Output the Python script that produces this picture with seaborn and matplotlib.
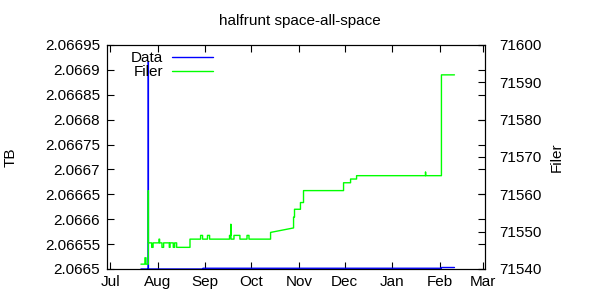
import matplotlib
matplotlib.use("Agg")
import matplotlib.pyplot as plt
import matplotlib.dates as mdates
from matplotlib.ticker import FixedLocator, FuncFormatter
from matplotlib.lines import Line2D
import pandas as pd
import seaborn as sns

# ---------------- data ----------------
title = "halfrunt space-all-space"
left_label = "TB"
right_label = "Filer"
series_names = ["Data", "Filer"]

data_dates = ["2010-07-21 00:00", "2010-07-25 19:00", "2010-07-25 20:00",
              "2010-07-25 21:00", "2010-08-30 12:00", "2010-08-30 12:00",
              "2011-02-02 02:00", "2011-02-02 02:00", "2011-02-10 14:00"]
data_tb = [2.0665, 2.0665, 2.066916,
           2.0665, 2.0665, 2.0665015,
           2.0665015, 2.066503, 2.066503]

filer_dates = [
    "2010-07-21 00:00", "2010-07-23 14:00", "2010-07-23 14:00", "2010-07-24 07:00",
    "2010-07-24 07:00", "2010-07-25 19:00", "2010-07-25 19:00", "2010-07-25 20:00",
    "2010-07-25 21:00", "2010-07-28 00:00", "2010-07-28 00:00", "2010-07-28 22:00",
    "2010-07-28 22:00", "2010-08-01 19:00", "2010-08-01 19:00", "2010-08-02 04:00",
    "2010-08-02 04:00", "2010-08-03 17:00", "2010-08-03 17:00", "2010-08-04 19:00",
    "2010-08-04 19:00", "2010-08-08 12:00", "2010-08-08 12:00", "2010-08-09 00:00",
    "2010-08-09 00:00", "2010-08-11 02:00", "2010-08-11 02:00", "2010-08-12 00:00",
    "2010-08-12 00:00", "2010-08-13 07:00", "2010-08-13 07:00", "2010-08-22 00:00",
    "2010-08-22 00:00", "2010-08-28 22:00", "2010-08-28 22:00", "2010-08-30 05:00",
    "2010-08-30 05:00", "2010-09-02 10:00", "2010-09-02 10:00", "2010-09-03 19:00",
    "2010-09-03 19:00", "2010-09-16 19:00", "2010-09-16 19:00", "2010-09-17 16:00",
    "2010-09-17 16:00", "2010-09-17 18:00", "2010-09-19 17:00", "2010-09-19 17:00",
    "2010-09-23 14:00", "2010-09-23 14:00", "2010-09-28 05:00", "2010-09-28 05:00",
    "2010-09-29 12:00", "2010-09-29 12:00", "2010-10-13 14:00", "2010-10-13 14:00",
    "2010-10-28 14:00", "2010-10-28 14:00", "2010-10-29 05:00", "2010-10-29 05:00",
    "2010-11-02 02:00", "2010-11-02 02:00", "2010-11-04 02:00", "2010-11-04 02:00",
    "2010-11-30 05:00", "2010-11-30 05:00", "2010-12-04 19:00", "2010-12-04 19:00",
    "2010-12-08 17:00", "2010-12-08 17:00", "2011-01-22 17:00", "2011-01-22 17:00",
    "2011-01-22 19:00", "2011-02-02 02:00", "2011-02-02 02:00", "2011-02-10 14:00",
]
filer_count = [
    71541.3, 71541.3, 71543.0, 71543.0,
    71541.3, 71541.3, 71541.3, 71561.0,
    71547.0, 71547.0, 71545.8, 71545.8,
    71547.0, 71547.0, 71548.0, 71548.0,
    71547.0, 71547.0, 71545.8, 71545.8,
    71547.0, 71547.0, 71545.8, 71545.8,
    71547.0, 71547.0, 71545.8, 71545.8,
    71547.0, 71547.0, 71545.8, 71545.8,
    71548.0, 71548.0, 71549.0, 71549.0,
    71548.0, 71548.0, 71549.0, 71549.0,
    71548.0, 71548.0, 71549.0, 71549.0,
    71552.0, 71548.0, 71548.0, 71549.0,
    71549.0, 71548.0, 71548.0, 71549.0,
    71549.0, 71548.0, 71548.0, 71549.8,
    71551.0, 71553.9, 71553.9, 71556.0,
    71556.0, 71557.8, 71557.8, 71561.0,
    71561.0, 71563.1, 71563.1, 71564.1,
    71564.1, 71565.0, 71565.0, 71566.0,
    71565.0, 71565.0, 71592.0, 71592.0,
]

left_ticks = [2.0665, 2.06655, 2.0666, 2.06665, 2.0667, 2.06675,
              2.0668, 2.06685, 2.0669, 2.06695]
right_ticks = [71540, 71550, 71560, 71570, 71580, 71590, 71600]
x_start = "2010-06-29 01:00"
x_end = "2011-03-02 17:00"

# ---------------- styling ----------------
sns.set_theme(style="white")
plt.rcParams["font.family"] = ["Liberation Sans", "DejaVu Sans"]
plt.rcParams["axes.edgecolor"] = "black"
plt.rcParams["axes.linewidth"] = 0.8

df_data = pd.DataFrame({"date": pd.to_datetime(data_dates), "tb": data_tb})
df_filer = pd.DataFrame({"date": pd.to_datetime(filer_dates), "filer": filer_count})

fig = plt.figure(figsize=(6, 3), dpi=100)
ax = fig.add_axes([107.3 / 600, 31 / 300, 378 / 600, 224 / 300])
ax2 = ax.twinx()

blue = "#0000ff"
green = "#00ff00"
sns.lineplot(data=df_data, x="date", y="tb", ax=ax, color=blue, lw=1.0,
             estimator=None, sort=False, legend=False)
sns.lineplot(data=df_filer, x="date", y="filer", ax=ax2, color=green, lw=1.0,
             estimator=None, sort=False, legend=False)

ax.set_xlim(pd.Timestamp(x_start), pd.Timestamp(x_end))
ax.set_ylim(left_ticks[0], left_ticks[-1])
ax2.set_ylim(right_ticks[0], right_ticks[-1])

ax.xaxis.set_major_locator(mdates.MonthLocator())
ax.xaxis.set_major_formatter(mdates.DateFormatter("%b"))
ax.yaxis.set_major_locator(FixedLocator(left_ticks))
ax.yaxis.set_major_formatter(
    FuncFormatter(lambda v, p: f"{v:.5f}".rstrip("0").rstrip(".")))
ax2.yaxis.set_major_locator(FixedLocator(right_ticks))
ax2.yaxis.set_major_formatter(FuncFormatter(lambda v, p: f"{v:.0f}"))

fs = 11
ax.tick_params(axis="x", direction="in", top=True, bottom=True, length=5,
               width=0.8, labelsize=fs, pad=4.3, colors="black")
ax.tick_params(axis="y", direction="in", left=True, right=True, length=5,
               width=0.8, labelsize=fs, pad=5.3, colors="black")
ax2.tick_params(axis="y", direction="in", right=True, left=False, length=5,
                width=0.8, labelsize=fs, pad=9.9, colors="black")

ax.set_xlabel("")
ax.set_ylabel(left_label, fontsize=fs, color="black")
ax2.set_ylabel(right_label, fontsize=fs, color="black")
ax.yaxis.set_label_coords(-0.236, 0.5)
ax2.yaxis.set_label_coords(1.171, 0.5)

ax.set_title(title, fontsize=fs, color="black", x=(300 - 107.3) / 378, pad=14.4)

for a in (ax, ax2):
    for s in a.spines.values():
        s.set_color("black")
        s.set_linewidth(0.8)
ax2.patch.set_visible(False)

handles = [Line2D([], [], color=blue, lw=1.0), Line2D([], [], color=green, lw=1.0)]
leg = ax2.legend(handles, series_names, loc="upper left",
                 bbox_to_anchor=((131 - 107.3) / 378, 0.973), frameon=False,
                 markerfirst=False, fontsize=fs, handlelength=2.65,
                 handletextpad=0.6, labelspacing=0.0, borderpad=0.0,
                 borderaxespad=0.0)
for t in leg.get_texts():
    t.set_color("black")

fig.savefig("out.png", dpi=100)
